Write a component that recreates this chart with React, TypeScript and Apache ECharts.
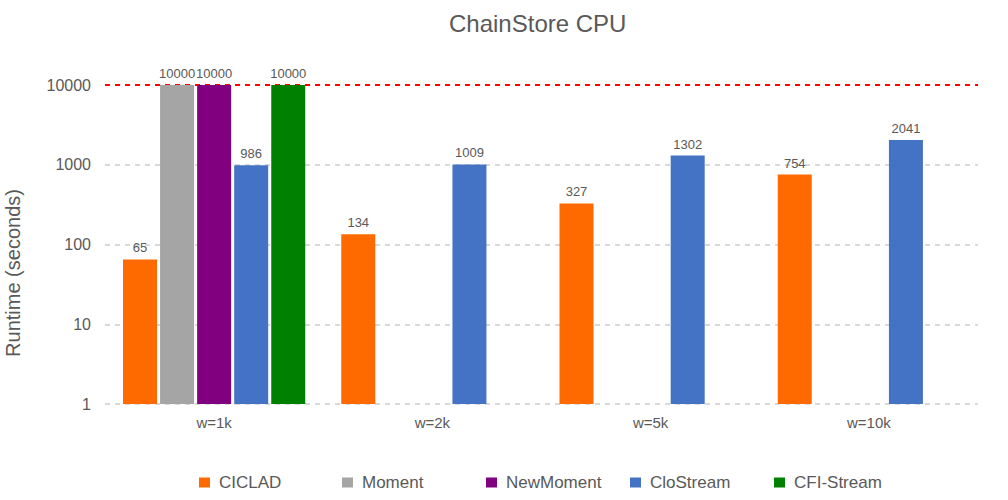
import React, { useEffect, useRef } from "react";
import * as echarts from "echarts";

const categories = ["w=1k", "w=2k", "w=5k", "w=10k"];
const seriesNames = ["CICLAD", "Moment", "NewMoment", "CloStream", "CFI-Stream"];
const ciclad = [65, 134, 327, 754];
const moment = [10000, null, null, null];
const newMoment = [10000, null, null, null];
const cloStream = [986, 1009, 1302, 2041];
const cfiStream = [10000, null, null, null];
const yTicks = [1, 10, 100, 1000, 10000];
const colors = ["#FF6A00", "#A5A5A5", "#800080", "#4472C4", "#008000"];
const legendLefts = [194, 337, 481, 625, 769];

export default function App() {
  const ref = useRef<HTMLDivElement>(null);
  useEffect(() => {
    if (!ref.current) return;
    const chart = echarts.init(ref.current, null, { renderer: "svg" });
    const values = [ciclad, moment, newMoment, cloStream, cfiStream];
    const font = "'Liberation Sans', Arial, sans-serif";
    chart.setOption({
      animation: false,
      textStyle: { fontFamily: font },
      title: {
        text: "ChainStore CPU",
        left: 444,
        top: 6,
        textStyle: { fontSize: 24, fontWeight: "normal", color: "#595959", fontFamily: font },
      },
      legend: seriesNames.map((name, i) => ({
        top: 469,
        left: legendLefts[i],
        itemWidth: 11,
        itemHeight: 10,
        icon: "rect",
        data: [name],
        textStyle: { fontSize: 17, color: "#595959", padding: [0, 0, 0, 4], fontFamily: font },
      })),
      grid: { left: 105, right: 30, top: 85, bottom: 96, containLabel: false },
      xAxis: {
        type: "category",
        data: categories,
        axisLine: { show: false },
        axisTick: { show: false },
        axisLabel: { fontSize: 15, color: "#595959", margin: 11, fontFamily: font },
      },
      yAxis: {
        type: "log",
        logBase: 10,
        min: yTicks[0],
        max: yTicks[yTicks.length - 1],
        axisLine: { show: false },
        axisTick: { show: false },
        axisLabel: {
          fontSize: 16,
          color: "#595959",
          margin: 14,
          fontFamily: font,
          formatter: (v: number) => String(v),
        },
        splitLine: {
          show: true,
          lineStyle: {
            type: [5, 5],
            width: 2,
            color: ["#D9D9D9", "#D9D9D9", "#D9D9D9", "#D9D9D9", "#FF0000"],
          },
        },
      },
      graphic: [
        {
          type: "text",
          x: 13,
          y: 273,
          rotation: Math.PI / 2,
          style: {
            text: "Runtime (seconds)",
            fontSize: 20,
            fill: "#595959",
            fontFamily: font,
            align: "center",
            verticalAlign: "middle",
          },
        },
      ],
      series: seriesNames.map((name, i) => ({
        name,
        type: "bar",
        data: values[i],
        barWidth: 34,
        barGap: "9%",
        itemStyle: { color: colors[i] },
        label: {
          show: true,
          position: "top",
          distance: 5,
          fontSize: 13,
          color: "#595959",
          fontFamily: font,
        },
      })),
    });
    return () => chart.dispose();
  }, []);
  return <div ref={ref} style={{ width: 1008, height: 500, position: "absolute", left: 0, top: 0 }} />;
}
